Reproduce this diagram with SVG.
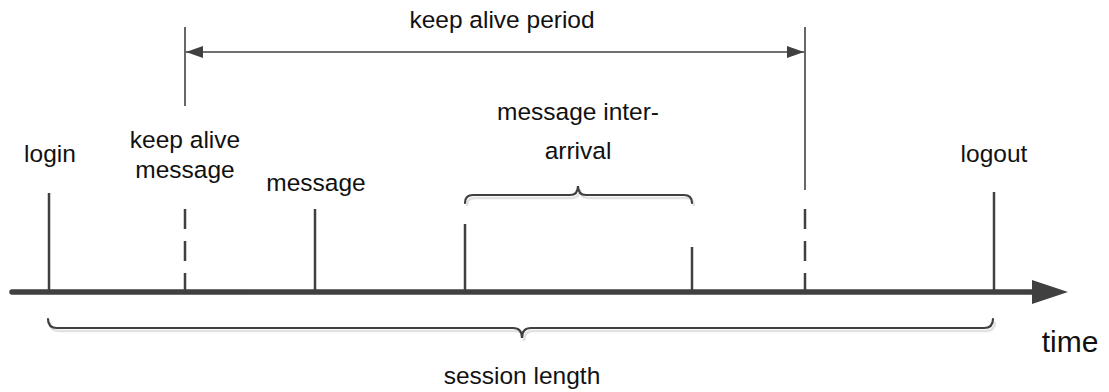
<svg xmlns="http://www.w3.org/2000/svg" width="1109" height="392" viewBox="0 0 1109 392">
  <style>
    .lbl { font-family: "Liberation Sans", Arial, sans-serif; font-size: 24.5px; fill: #111; text-anchor: middle; }
    .big { font-size: 30px; }
    .tick { stroke: #404040; stroke-width: 2.5; fill: none; }
    .dash { stroke: #404040; stroke-width: 2.5; fill: none; stroke-dasharray: 20 12; }
    .guide { stroke: #404040; stroke-width: 1.6; fill: none; }
    .brace { stroke: #404040; stroke-width: 2.2; fill: none; stroke-linecap: round; }
    .shadow { stroke: #e2e2e2; stroke-width: 2.5; fill: none; }
  </style>
  <defs>
    <marker id="tip" viewBox="0 0 17 12" refX="17" refY="6" markerWidth="17" markerHeight="12" markerUnits="userSpaceOnUse" orient="auto-start-reverse">
      <path d="M0,0 L17,6 L0,12 Z" fill="#404040"/>
    </marker>
  </defs>

  <!-- time axis -->
  <g id="axis">
    <line x1="12" y1="292" x2="1034" y2="292" stroke="#404040" stroke-width="5.5" stroke-linecap="round"/>
    <path d="M1032,280 L1068,292 L1032,304 Z" fill="#404040"/>
    <text class="lbl big" x="1070" y="352">time</text>
  </g>

  <!-- events on the axis -->
  <g id="login">
    <line class="tick" x1="49" y1="193" x2="49" y2="292"/>
    <text class="lbl" x="50" y="162">login</text>
  </g>
  <g id="keepalive-msg">
    <line class="dash" x1="185" y1="209" x2="185" y2="292"/>
    <line class="guide" x1="185" y1="27" x2="185" y2="106"/>
    <text class="lbl" x="185" y="148">keep alive</text>
    <text class="lbl" x="185" y="178">message</text>
  </g>
  <g id="message">
    <line class="tick" x1="315" y1="209" x2="315" y2="292"/>
    <text class="lbl" x="316" y="191">message</text>
  </g>
  <g id="msg-a">
    <line class="tick" x1="465" y1="224" x2="465" y2="292"/>
  </g>
  <g id="msg-b">
    <line class="tick" x1="692" y1="247" x2="692" y2="292"/>
  </g>
  <g id="keepalive-end">
    <line class="dash" x1="805" y1="209" x2="805" y2="292"/>
    <line class="guide" x1="805" y1="27" x2="805" y2="190"/>
  </g>
  <g id="logout">
    <line class="tick" x1="994" y1="192" x2="994" y2="292"/>
    <text class="lbl" x="994" y="162">logout</text>
  </g>

  <!-- spans -->
  <g id="connectors">
    <line class="guide" x1="186" y1="52" x2="804" y2="52" marker-start="url(#tip)" marker-end="url(#tip)"/>
    <path class="shadow" d="M467,206 Q467,198 475,198 L572,198 Q580,198 580,189 Q580,198 588,198 L686,198 Q694,198 694,206"/>
    <path class="brace" d="M465,203 Q465,195 473,195 L570,195 Q578,195 578,186 Q578,195 586,195 L684,195 Q692,195 692,203"/>
    <path class="shadow" d="M50,322 Q50,331 59,331 L515,331 Q524,331 524,341 Q524,331 533,331 L986,331 Q995,331 995,322"/>
    <path class="brace" d="M48,319 Q48,328 57,328 L513,328 Q522,328 522,338 Q522,328 531,328 L984,328 Q993,328 993,319"/>
  </g>

  <g id="labels">
    <text class="lbl" x="502" y="28">keep alive period</text>
    <text class="lbl" x="578" y="120">message inter-</text>
    <text class="lbl" x="578" y="159">arrival</text>
    <text class="lbl" x="522" y="384">session length</text>
  </g>
</svg>
